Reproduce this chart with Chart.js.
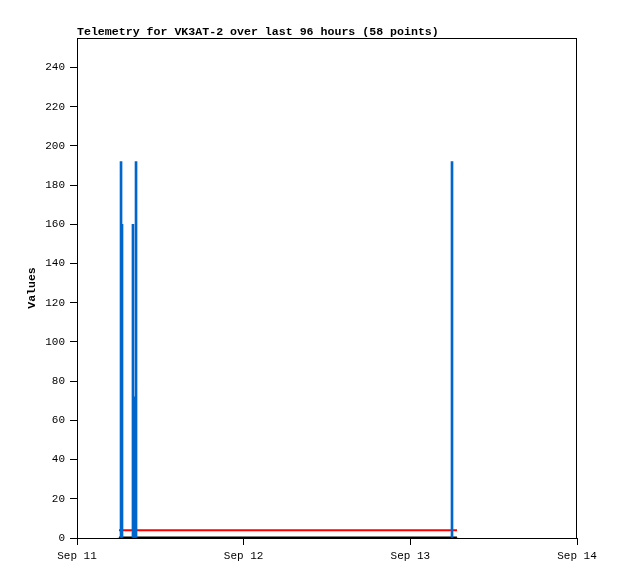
<!DOCTYPE html>
<html lang="en">

<head>
    <meta charset="UTF-8">
    <title>Telemetry VK3AT-2</title>
    <script src="https://cdn.jsdelivr.net/npm/chart.js"></script>
    <style>
        body { margin: 0; background: #fff; }
    </style>
</head>

<body>
    <canvas id="telemetryChart" width="618" height="579"></canvas>

    <script>
        // hours since Sep 11 00:00
        const sampleHours = [6.05, 6.34, 6.48, 8.06, 8.28, 8.50, 54.00, 54.72];
        const channelBlue = [0, 192, 160, 160, 72, 192, 192, 0];
        const channelRed = [4, 4, 4, 4, 4, 4, 4, 4];
        const channelBlack = [0, 0, 0, 0, 0, 0, 0, 0];
        const dayLabels = ['Sep 11', 'Sep 12', 'Sep 13', 'Sep 14'];

        const toPoints = vals => sampleHours.map((h, i) => ({ x: h, y: vals[i] }));

        const frame = {
            id: 'frame',
            afterDatasetsDraw(chart) {
                const { ctx, chartArea: a } = chart;
                ctx.save();
                ctx.strokeStyle = '#000';
                ctx.lineWidth = 1;
                ctx.strokeRect(a.left + 0.5, a.top + 0.5, a.right - a.left - 1, a.bottom - a.top);
                ctx.restore();
            }
        };

        const mono = 'Liberation Mono, DejaVu Sans Mono, monospace';

        new Chart(document.getElementById('telemetryChart'), {
            type: 'bar',
            data: {
                datasets: [{
                    label: 'Blue',
                    data: toPoints(channelBlue),
                    backgroundColor: 'rgb(0, 102, 204)',
                    barThickness: 2,
                    order: 0
                }, {
                    type: 'line',
                    label: 'Red',
                    data: toPoints(channelRed),
                    borderColor: '#ff0000',
                    borderWidth: 2,
                    pointRadius: 0,
                    order: 1
                }, {
                    type: 'line',
                    label: 'Black',
                    data: toPoints(channelBlack),
                    borderColor: '#000',
                    borderWidth: 3,
                    pointRadius: 0,
                    order: 2
                }]
            },
            options: {
                responsive: false,
                animation: false,
                layout: { padding: { left: 0, right: 41, top: 0, bottom: 0 } },
                plugins: {
                    legend: { display: false },
                    tooltip: { enabled: false },
                    title: {
                        display: true,
                        text: 'Telemetry for VK3AT-2 over last 96 hours (58 points)',
                        align: 'start',
                        fullSize: false,
                        color: '#000',
                        font: { family: mono, size: 11.6, weight: 'bold', lineHeight: 1 },
                        padding: { top: 26, bottom: 0.4 }
                    }
                },
                scales: {
                    x: {
                        type: 'linear',
                        min: 0,
                        max: 72,
                        offset: false,
                        grid: { display: true, drawOnChartArea: false, drawTicks: true, tickLength: 7, color: '#000', offset: false },
                        border: { display: true, color: '#000' },
                        ticks: {
                            stepSize: 24,
                            color: '#000',
                            padding: 4,
                            maxRotation: 0,
                            font: { family: mono, size: 11 },
                            callback: v => dayLabels[v / 24]
                        },
                        afterFit: s => { s.height = 41; }
                    },
                    y: {
                        min: 0,
                        max: 255,
                        grid: { display: true, drawOnChartArea: false, drawTicks: true, tickLength: 7, color: '#000' },
                        border: { display: true, color: '#000' },
                        ticks: {
                            stepSize: 20,
                            includeBounds: false,
                            color: '#000',
                            padding: 5,
                            font: { family: mono, size: 11 }
                        },
                        title: {
                            display: true,
                            text: 'Values',
                            color: '#000',
                            font: { family: mono, size: 11.5, weight: 'bold' },
                            padding: { top: 25, bottom: 0 }
                        },
                        afterFit: s => { s.width = 77; }
                    }
                }
            },
            plugins: [frame]
        });
    </script>
</body>

</html>
